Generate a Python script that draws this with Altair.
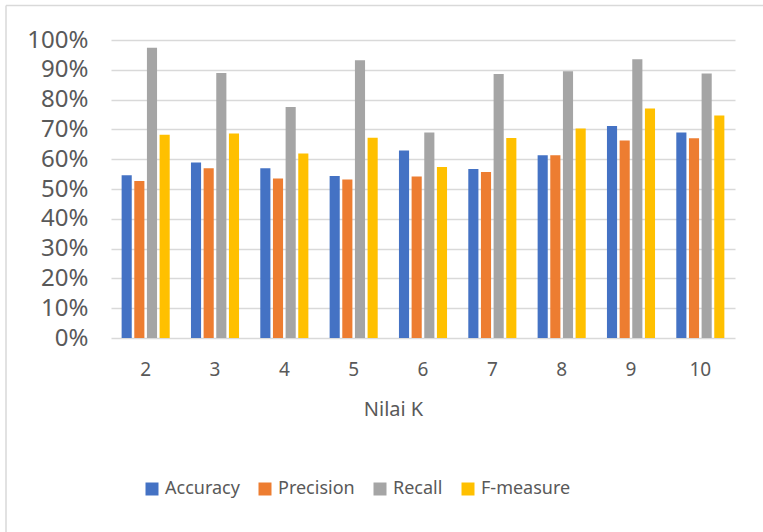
import altair as alt
import pandas as pd

k_values = ["2", "3", "4", "5", "6", "7", "8", "9", "10"]
metrics = ["Accuracy", "Precision", "Recall", "F-measure"]
accuracy = [0.546, 0.589, 0.570, 0.544, 0.629, 0.567, 0.613, 0.711, 0.690]
precision = [0.527, 0.570, 0.535, 0.532, 0.542, 0.557, 0.613, 0.663, 0.670]
recall = [0.974, 0.889, 0.775, 0.932, 0.690, 0.886, 0.895, 0.935, 0.888]
fmeasure = [0.682, 0.686, 0.619, 0.672, 0.574, 0.671, 0.703, 0.770, 0.747]
colors = ["#4472C4", "#ED7D31", "#A5A5A5", "#FFC000"]

rows = []
for name, series in zip(metrics, [accuracy, precision, recall, fmeasure]):
    for k, v in zip(k_values, series):
        rows.append({"K": k, "Metric": name, "Value": v})
df = pd.DataFrame(rows)

FONT = "Noto Sans"
TXT = "#595959"

bars = alt.Chart(df).mark_bar().encode(
    x=alt.X("K:N", sort=k_values, title="Nilai K",
            scale=alt.Scale(paddingInner=0.27, paddingOuter=0.135),
            axis=alt.Axis(labelAngle=0, labelFontSize=19, labelColor=TXT, labelFont=FONT,
                          ticks=False, domain=False, labelPadding=22,
                          titleFontSize=20, titleColor=TXT, titleFont=FONT,
                          titleFontWeight="normal", titlePadding=20,
                          titleX=282, titleAlign="center")),
    xOffset=alt.XOffset("Metric:N", sort=metrics,
                        scale=alt.Scale(paddingInner=0.2, paddingOuter=0.1)),
    y=alt.Y("Value:Q", title=None,
            scale=alt.Scale(domain=[0, 1]),
            axis=alt.Axis(format=".0%", values=[i / 10 for i in range(11)],
                          labelFontSize=24, labelColor=TXT, labelFont=FONT,
                          ticks=False, domain=False, labelPadding=23,
                          gridColor="#d9d9d9", gridWidth=1.5)),
    color=alt.Color("Metric:N", sort=metrics,
                    scale=alt.Scale(domain=metrics, range=colors),
                    legend=alt.Legend(title=None, orient="none", direction="horizontal",
                                      legendX=32, legendY=440,
                                      symbolType="square", symbolSize=169,
                                      symbolStrokeWidth=0,
                                      labelFontSize=18, labelColor=TXT, labelFont=FONT,
                                      columnPadding=16, symbolOffset=0)),
)

border_df = pd.DataFrame({"a": [0]})
top_line = alt.Chart(border_df).mark_rule(color="#d9d9d9", strokeWidth=1.5).encode(
    x=alt.value(-105), x2=alt.value(700), y=alt.value(-34.5))
left_line = alt.Chart(border_df).mark_rule(color="#d9d9d9", strokeWidth=1.5).encode(
    x=alt.value(-105), y=alt.value(-34.5), y2=alt.value(500))

chart = alt.layer(bars, top_line, left_line).properties(
    width=624, height=298,
    autosize=alt.AutoSizeParams(type="none"),
    padding={"left": 111, "top": 40, "right": 28, "bottom": 194},
    background="white",
).configure_view(stroke=None)

chart.save("out.html", embed_options={"renderer": "svg", "actions": False})
